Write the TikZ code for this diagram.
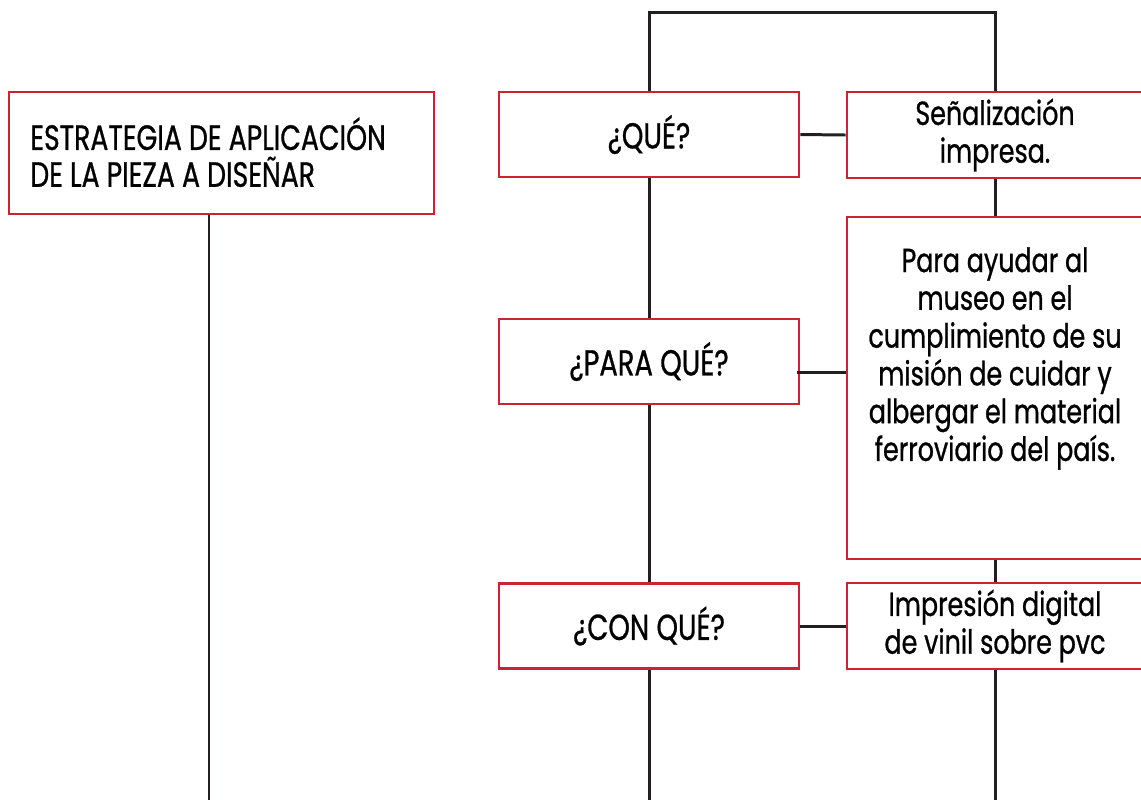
\documentclass[tikz,border=0pt]{standalone}
\usepackage{fontspec}
\setmainfont{Poppins}[FakeStretch=0.76, FakeBold=0.8]
\usepackage{tikz}
\definecolor{boxred}{RGB}{204,35,48}
\definecolor{linkblack}{RGB}{35,31,32}

\begin{document}
\begin{tikzpicture}[x=0.02cm, y=0.02cm]
\tikzstyle{every node}+=[inner sep=0pt]
\tikzstyle{box}=[draw=boxred, line width=1.6pt, fill=white, minimum width=6cm, minimum height=1.7cm, align=center, font=\fontsize{19}{21.5}\selectfont]
\tikzstyle{ask}=[box, font=\fontsize{20.5}{22}\selectfont]
\tikzstyle{link}=[draw=linkblack, line width=1.7pt]
\useasboundingbox (0,0) rectangle (1141,-799);
\clip (0,0) rectangle (1141,-799);
% helper coordinates
\coordinate (top) at (0,-12);
\coordinate (bot) at (0,-800);
\coordinate (sx) at (209,0);
\coordinate (pj) at (797,-372);
% left box
\node [box, minimum width=8.5cm, minimum height=2.44cm] (strat) at (221.5,-153) {};
\node [font=\fontsize{20}{21}\selectfont, align=left, anchor=north west] (stratt) at (30,-117) {ESTRATEGIA DE APLICACIÓN\\DE LA PIEZA A DISEÑAR};
% questions
\node [ask] (que) at (649,-134.5) {¿QUÉ?};
\node [ask] (paraque) at (649,-361.5) {¿PARA QUÉ?};
\node [ask] (conque) at (649,-626) {¿CON QUÉ?};
% answers
\node [box, minimum width=5.92cm, minimum height=1.72cm] (senal) at (995,-135) {Señalización\\impresa.};
\node [box, minimum width=5.92cm, minimum height=6.84cm] (parab) at (995,-388) {};
\node [font=\fontsize{19}{21.5}\selectfont, align=center, anchor=north] (parat) at (995,-247) {Para ayudar al\\museo en el\\cumplimiento de su\\misión de cuidar y\\albergar el material\\ferroviario del país.};
\node [box, minimum width=5.92cm, minimum height=1.72cm] (impre) at (995,-626) {Impresión digital\\de vinil sobre pvc};
% connectors
\draw [link] (que.north) -- (que.north |- top) -| (senal.north);
\draw [link] (que.east) -- (senal.west);
\draw [link] (pj) -- (pj -| parab.west);
\draw [link] (conque.east) -- (impre.west);
\draw [link] (que.south) -- (paraque.north);
\draw [link] (paraque.south) -- (conque.north);
\draw [link] (senal.south) -- (parab.north);
\draw [link] (parab.south) -- (impre.north);
\draw [link] (strat.south -| sx) -- (sx |- bot);
\draw [link] (conque.south) -- (conque.south |- bot);
\draw [link] (impre.south) -- (impre.south |- bot);
\end{tikzpicture}
\end{document}
